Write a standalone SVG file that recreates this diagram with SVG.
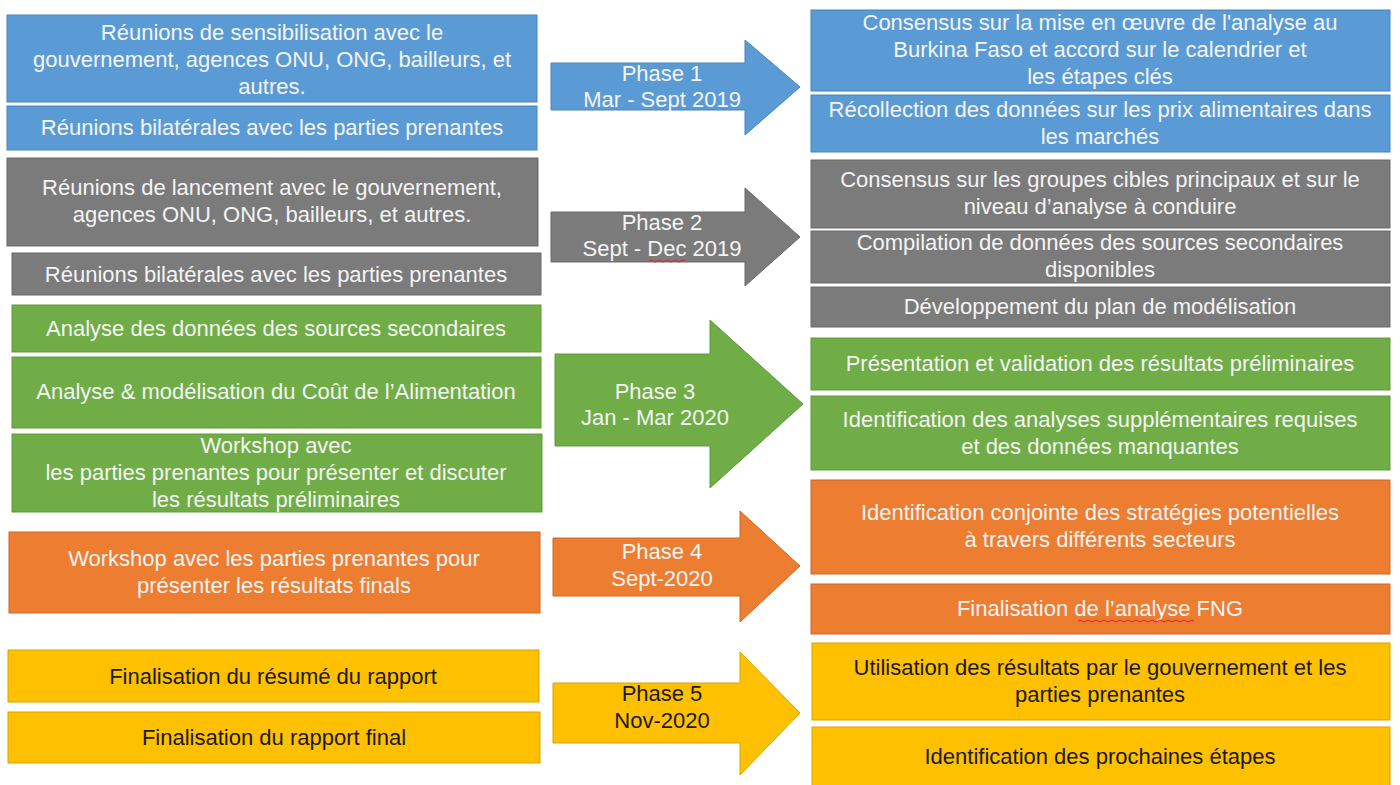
<svg xmlns="http://www.w3.org/2000/svg" width="1400" height="785" viewBox="0 0 1400 785">
<style>
text{font-family:"Liberation Sans",Arial,sans-serif;font-size:22px;text-anchor:middle}
.lt{fill:#f4f4f4}
.dk{fill:#1a1a1a}
.blue{fill:#5b9bd5;stroke:#4a84b8;stroke-width:1}
.gray{fill:#7b7b7b;stroke:#6a6a6a;stroke-width:1}
.green{fill:#70ad47;stroke:#5f9a3b;stroke-width:1}
.orange{fill:#ed7d31;stroke:#c9692a;stroke-width:1}
.yellow{fill:#ffc000;stroke:#d9a300;stroke-width:1}
.sq{fill:none;stroke:#e02020;stroke-width:1}
</style>
<rect width="1400" height="785" fill="#ffffff"/>

<g id="connectors">
  <g id="phase1"><path class="blue" d="M551,63 H745 V40 L800,87 L745,135 V110 H551 Z"/>
    <text class="lt" x="662" y="81">Phase 1</text><text class="lt" x="662" y="107">Mar - Sept 2019</text></g>
  <g id="phase2"><path class="gray" d="M551,212 H745 V188 L800,237 L745,286 V262 H551 Z"/>
    <text class="lt" x="662" y="230">Phase 2</text><text class="lt" x="662" y="256">Sept - Dec 2019</text>
    <path class="sq" d="M649,261 q2,-2 4,0 t4,0 t4,0 t4,0 t4,0 t4,0 t4,0 t4,0 t4,0"/></g>
  <g id="phase3"><path class="green" d="M555,354 H710 V320 L803,404 L710,488 V446 H555 Z"/>
    <text class="lt" x="655" y="399">Phase 3</text><text class="lt" x="655" y="425">Jan - Mar 2020</text></g>
  <g id="phase4"><path class="orange" d="M553,538 H740 V511 L800,566 L740,622 V596 H553 Z"/>
    <text class="lt" x="662" y="559">Phase 4</text><text class="lt" x="662" y="586">Sept-2020</text></g>
  <g id="phase5"><path class="yellow" d="M553,683 H740 V652 L800,713 L740,775 V743 H553 Z"/>
    <text class="dk" x="662" y="701">Phase 5</text><text class="dk" x="662" y="728">Nov-2020</text></g>
</g>

<g id="l-blue-1"><rect class="blue" x="7" y="15" width="530" height="87"/>
  <text class="lt" x="272" y="40">Réunions de sensibilisation avec le</text>
  <text class="lt" x="272" y="67">gouvernement, agences ONU, ONG, bailleurs, et</text>
  <text class="lt" x="272" y="94">autres.</text></g>
<g id="l-blue-2"><rect class="blue" x="7" y="106" width="530" height="44"/>
  <text class="lt" x="272" y="135">Réunions bilatérales avec les parties prenantes</text></g>
<g id="l-gray-1"><rect class="gray" x="7" y="158" width="531" height="88"/>
  <text class="lt" x="272" y="195">Réunions de lancement avec le gouvernement,</text>
  <text class="lt" x="272" y="222">agences ONU, ONG, bailleurs, et autres.</text></g>
<g id="l-gray-2"><rect class="gray" x="12" y="253" width="529" height="42"/>
  <text class="lt" x="276" y="282">Réunions bilatérales avec les parties prenantes</text></g>
<g id="l-green-1"><rect class="green" x="12" y="305" width="529" height="47"/>
  <text class="lt" x="276" y="336">Analyse des données des sources secondaires</text></g>
<g id="l-green-2"><rect class="green" x="12" y="357" width="529" height="71"/>
  <text class="lt" x="276" y="399">Analyse &amp; modélisation du Coût de l’Alimentation</text></g>
<g id="l-green-3"><rect class="green" x="12" y="434" width="530" height="78"/>
  <text class="lt" x="276" y="453">Workshop avec</text>
  <text class="lt" x="276" y="480">les parties prenantes pour présenter et discuter</text>
  <text class="lt" x="276" y="507">les résultats préliminaires</text></g>
<g id="l-orange"><rect class="orange" x="9" y="532" width="531" height="81"/>
  <text class="lt" x="274" y="566">Workshop avec les parties prenantes pour</text>
  <text class="lt" x="274" y="593">présenter les résultats finals</text></g>
<g id="l-yellow-1"><rect class="yellow" x="8" y="650" width="531" height="52"/>
  <text class="dk" x="273" y="684">Finalisation du résumé du rapport</text></g>
<g id="l-yellow-2"><rect class="yellow" x="8" y="712" width="532" height="51"/>
  <text class="dk" x="274" y="745">Finalisation du rapport final</text></g>

<g id="r-blue-1"><rect class="blue" x="811" y="10" width="579" height="81"/>
  <text class="lt" x="1100" y="30">Consensus sur la mise en œuvre de l'analyse au</text>
  <text class="lt" x="1100" y="57">Burkina Faso et accord sur le calendrier et</text>
  <text class="lt" x="1100" y="84">les étapes clés</text></g>
<g id="r-blue-2"><rect class="blue" x="811" y="95" width="579" height="57"/>
  <text class="lt" x="1100" y="117">Récollection des données sur les prix alimentaires dans</text>
  <text class="lt" x="1100" y="144">les marchés</text></g>
<g id="r-gray-1"><rect class="gray" x="811" y="160" width="579" height="68"/>
  <text class="lt" x="1100" y="187">Consensus sur les groupes cibles principaux et sur le</text>
  <text class="lt" x="1100" y="214">niveau d’analyse à conduire</text></g>
<g id="r-gray-2"><rect class="gray" x="811" y="231" width="579" height="52"/>
  <text class="lt" x="1100" y="250">Compilation de données des sources secondaires</text>
  <text class="lt" x="1100" y="277">disponibles</text></g>
<g id="r-gray-3"><rect class="gray" x="811" y="287" width="579" height="40"/>
  <text class="lt" x="1100" y="314">Développement du plan de modélisation</text></g>
<g id="r-green-1"><rect class="green" x="811" y="338" width="579" height="52"/>
  <text class="lt" x="1100" y="371">Présentation et validation des résultats préliminaires</text></g>
<g id="r-green-2"><rect class="green" x="811" y="396" width="579" height="74"/>
  <text class="lt" x="1100" y="427">Identification des analyses supplémentaires requises</text>
  <text class="lt" x="1100" y="454">et des données manquantes</text></g>
<g id="r-orange-1"><rect class="orange" x="811" y="480" width="579" height="94"/>
  <text class="lt" x="1100" y="520">Identification conjointe des stratégies potentielles</text>
  <text class="lt" x="1100" y="547">à travers différents secteurs</text></g>
<g id="r-orange-2"><rect class="orange" x="811" y="584" width="579" height="50"/>
  <text class="lt" x="1100" y="616">Finalisation de l’analyse FNG</text>
  <path class="sq" d="M1078,621 q2,-2 4,0 t4,0 t4,0 t4,0 t4,0 t4,0 t4,0 t4,0 t4,0 t4,0 t4,0 t4,0 t4,0 t4,0 t4,0 t4,0 t4,0 t4,0 t4,0 t4,0 t4,0 t4,0 t4,0 t4,0 t4,0 t4,0 t4,0 t4,0 t4,0"/></g>
<g id="r-yellow-1"><rect class="yellow" x="812" y="643" width="578" height="77"/>
  <text class="dk" x="1100" y="675">Utilisation des résultats par le gouvernement et les</text>
  <text class="dk" x="1100" y="702">parties prenantes</text></g>
<g id="r-yellow-2"><rect class="yellow" x="812" y="727" width="578" height="60"/>
  <text class="dk" x="1100" y="764">Identification des prochaines étapes</text></g>
</svg>
